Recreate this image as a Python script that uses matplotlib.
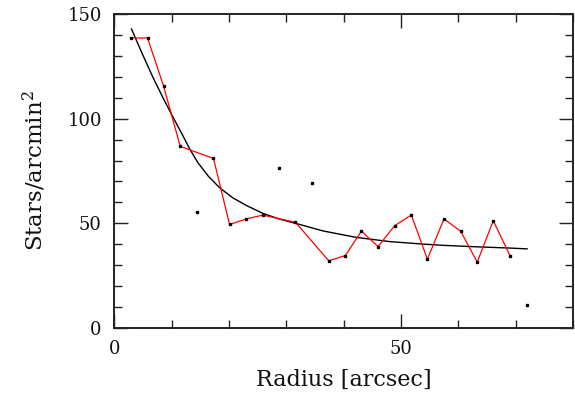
import matplotlib.pyplot as plt
from matplotlib.ticker import MultipleLocator

# radial density profile
radius = [2.9, 5.8, 8.6, 11.5, 17.3, 20.1, 23.0, 25.9, 31.6, 37.4, 40.3,
          43.1, 46.0, 48.9, 51.8, 54.6, 57.5, 60.4, 63.3, 66.1, 69.0]
density = [138.7, 138.7, 115.6, 86.8, 81.0, 49.4, 52.0, 53.9, 50.4, 32.0, 34.5,
           46.2, 38.8, 48.8, 53.9, 32.8, 52.0, 46.2, 31.3, 51.2, 34.5]

# rejected bins (plotted as bare dots)
rej_radius = [14.4, 28.8, 34.5, 71.9]
rej_density = [55.4, 76.2, 69.3, 11.0]

# fitted profile
fit_radius = [3.0, 4.9, 6.8, 8.5, 10.3, 12.0, 13.2, 14.6, 16.4, 18.4, 20.7,
              23.1, 26.0, 28.9, 31.8, 36.4, 42.2, 48.0, 53.3, 57.3, 63.1, 68.9, 72.0]
fit_density = [143.0, 131.0, 119.5, 110.0, 100.5, 91.7, 85.3, 78.9, 72.5, 66.9, 62.1,
               58.4, 54.6, 51.9, 49.8, 46.3, 43.2, 41.2, 40.1, 39.4, 38.7, 38.1, 37.7]

plt.rcParams.update({"font.family": "DejaVu Serif", "mathtext.fontset": "dejavuserif"})

fig = plt.figure(figsize=(5.75, 4.0), dpi=100)
ax = fig.add_axes([0.1988, 0.181, 0.7977, 0.783])

ax.plot(fit_radius, fit_density, color="black", lw=1.0)
ax.plot(radius, density, color="#ff0000", lw=0.9)
ax.plot(radius, density, ls="none", marker="s", ms=2.0, color="black")
ax.plot(rej_radius, rej_density, ls="none", marker="s", ms=2.0, color="black")

ax.set_xlim(0, 80)
ax.set_ylim(0, 150)
ax.xaxis.set_major_locator(MultipleLocator(50))
ax.xaxis.set_minor_locator(MultipleLocator(10))
ax.yaxis.set_major_locator(MultipleLocator(50))
ax.yaxis.set_minor_locator(MultipleLocator(10))

ax.tick_params(direction="in", which="both", top=True, right=True,
               labelsize=13, colors="#222222", labelcolor="#111111")
ax.tick_params(which="major", length=10, width=1.0, pad=9)
ax.tick_params(which="minor", length=6, width=1.0)
for s in ax.spines.values():
    s.set_linewidth(1.4)
    s.set_color("#222222")

ax.set_xlabel("Radius [arcsec]", fontsize=16, labelpad=8, color="#111111")
ax.set_ylabel("Stars/arcmin$^2$", fontsize=16.5, labelpad=14, color="#111111")

fig.savefig("out.png", dpi=100)
